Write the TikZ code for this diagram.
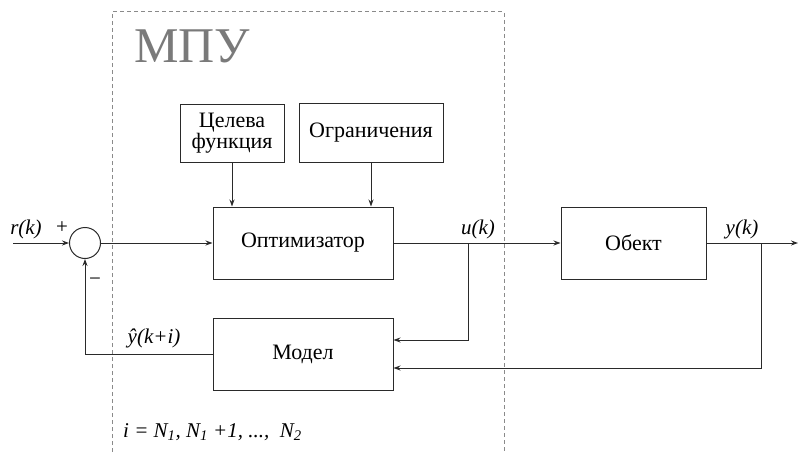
\documentclass[tikz,border=0pt]{standalone}
\usepackage{fontspec}
\setmainfont{Liberation Serif}
\usetikzlibrary{arrows.meta}
\definecolor{ln}{HTML}{2A2A2A}
\definecolor{dashgray}{HTML}{8A8A8A}
\definecolor{titlegray}{HTML}{7A7A7A}
\tikzset{
  blk/.style={draw=ln, line width=1pt, rectangle, minimum width=#1, inner sep=0pt, align=center, font=\fontsize{22}{24}\selectfont},
  con/.style={draw=ln, line width=1pt},
  arr/.style={con, -{Stealth[length=7pt,width=5pt]}},
  lbl/.style={font=\fontsize{21}{24}\selectfont\itshape, inner sep=0pt},
  sgn/.style={font=\fontsize{21}{24}\selectfont, inner sep=0pt},
  mpu/.style={draw=dashgray, line width=1pt, dash pattern=on 4pt off 3pt}
}
\begin{document}
\begin{tikzpicture}[x=1pt,y=-1pt]
\useasboundingbox (0,0) rectangle (798,452);
% dashed MPU region
\draw[mpu] (112,452) -- (112,12) -- (504,12) -- (504,452);
\node[anchor=base west, inner sep=0pt, text=titlegray, font=\fontsize{50}{56}\selectfont] (mputitle) at (134,63) {МПУ};

% blocks
\node[blk=104pt, minimum height=58pt] (cel) at (232,133) {Целева\\[-3pt]функция};
\node[blk=144pt, minimum height=59pt] (ogr) at (371,132.5) {Ограничения};
\node[blk=180pt, minimum height=72pt] (opt) at (303,243) {Оптимизатор};
\node[blk=145pt, minimum height=72pt] (obj) at (633.5,243) {Обект};
\node[blk=180pt, minimum height=72pt] (mod) at (303,354) {Модел};
\node[draw=ln, line width=1pt, circle, minimum size=31pt, inner sep=0pt] (sum) at (85,243) {};

% free ends / branch points
\coordinate (rin) at (13,243);
\coordinate (yout) at (798,243);
\coordinate (ub) at (468,243);
\coordinate (yb) at (761,243);
\coordinate (ufb) at (468,340);
\coordinate (yfb) at (761,368);
\coordinate (fbc) at (85,354);

% connectors
\draw[arr] (rin) -- (sum.west);
\draw[arr] (sum.east) -- (opt.west);
\draw[arr] (cel.south) -- (cel.south |- opt.north);
\draw[arr] (ogr.south) -- (ogr.south |- opt.north);
\draw[arr] (opt.east) -- (obj.west);
\draw[arr] (obj.east) -- (yout);
\draw[arr] (ub) -- (ufb) -- (ufb -| mod.east);
\draw[arr] (yb) -- (yfb) -- (yfb -| mod.east);
\draw[arr] (mod.west) -- (fbc) -- (sum.south);

% labels
\node[lbl] (rk) at (26,229) {r(k)};
\node[sgn] (plus) at (62,228) {+};
\node[sgn] (minus) at (95,282) {−};
\node[lbl] (uk) at (478,229) {u(k)};
\node[lbl] (yk) at (742,229) {y(k)};
\node[lbl] (yhat) at (154,338) {ŷ(k+i)};
\node[lbl, anchor=base west] (ieq) at (123,437) {i = N\textsubscript{1}, N\textsubscript{1} +1, ...,\ \ N\textsubscript{2}};
\end{tikzpicture}
\end{document}
